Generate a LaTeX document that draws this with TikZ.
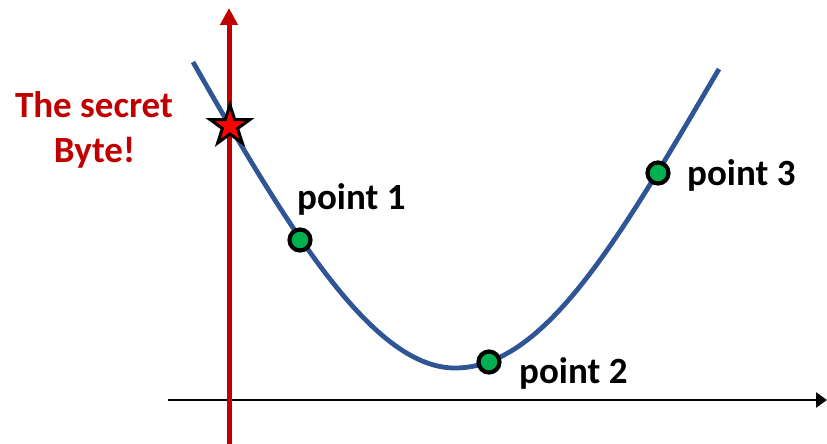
\documentclass[tikz,border=0pt]{standalone}
\usepackage{fontspec}
\setmainfont{Carlito}
\usetikzlibrary{arrows.meta,shapes.geometric}
\definecolor{axisred}{HTML}{C00000}
\definecolor{curveblue}{HTML}{2F5597}
\definecolor{ptgreen}{HTML}{00B050}
\tikzset{
  ptdot/.style={circle,draw=black,line width=4.2pt,fill=ptgreen,minimum size=21pt,inner sep=0pt},
  ptlabel/.style={anchor=base west,inner sep=0pt,font=\fontsize{37}{44}\selectfont\bfseries},
  secretlabel/.style={anchor=base,inner sep=0pt,text=axisred,font=\fontsize{37}{44}\selectfont\bfseries},
}
\begin{document}
\begin{tikzpicture}[x=1pt,y=-1pt]
\useasboundingbox (0,0) rectangle (827,444);
% axes
\coordinate (xstart) at (168,400);
\coordinate (xend) at (827,400);
\coordinate (ystart) at (229,444);
\coordinate (yend) at (229,8);
\draw[line width=2.5pt,-{Triangle[width=15pt,length=11pt]}] (xstart) -- (xend);
\draw[axisred,line width=5pt,-{Triangle[width=17pt,length=17pt]}] (ystart) -- (yend);
% curve
\coordinate (cstart) at (193,62);
\coordinate (cmin) at (455,368);
\coordinate (cend) at (719,69);
\draw[curveblue,line width=4.8pt]
  (cstart) .. controls (293,238) and (375,368) .. (cmin)
           .. controls (545,368) and (619,239) .. (cend);
% star
\node[star,star points=5,star point ratio=2.618,minimum size=42pt,inner sep=0pt,
      draw=black,line width=3pt,fill=red] (secret) at (230,126) {};
% points
\node[ptdot] (p1) at (300,240) {};
\node[ptdot] (p2) at (489,362) {};
\node[ptdot] (p3) at (658,173) {};
% labels
\node[ptlabel] (l1) at (297,209) {point 1};
\node[ptlabel] (l2) at (519,383) {point 2};
\node[ptlabel] (l3) at (687,185) {point 3};
\node[secretlabel] (s1) at (94,117) {The secret};
\node[secretlabel] (s2) at (94.5,162) {Byte!};
\end{tikzpicture}
\end{document}
